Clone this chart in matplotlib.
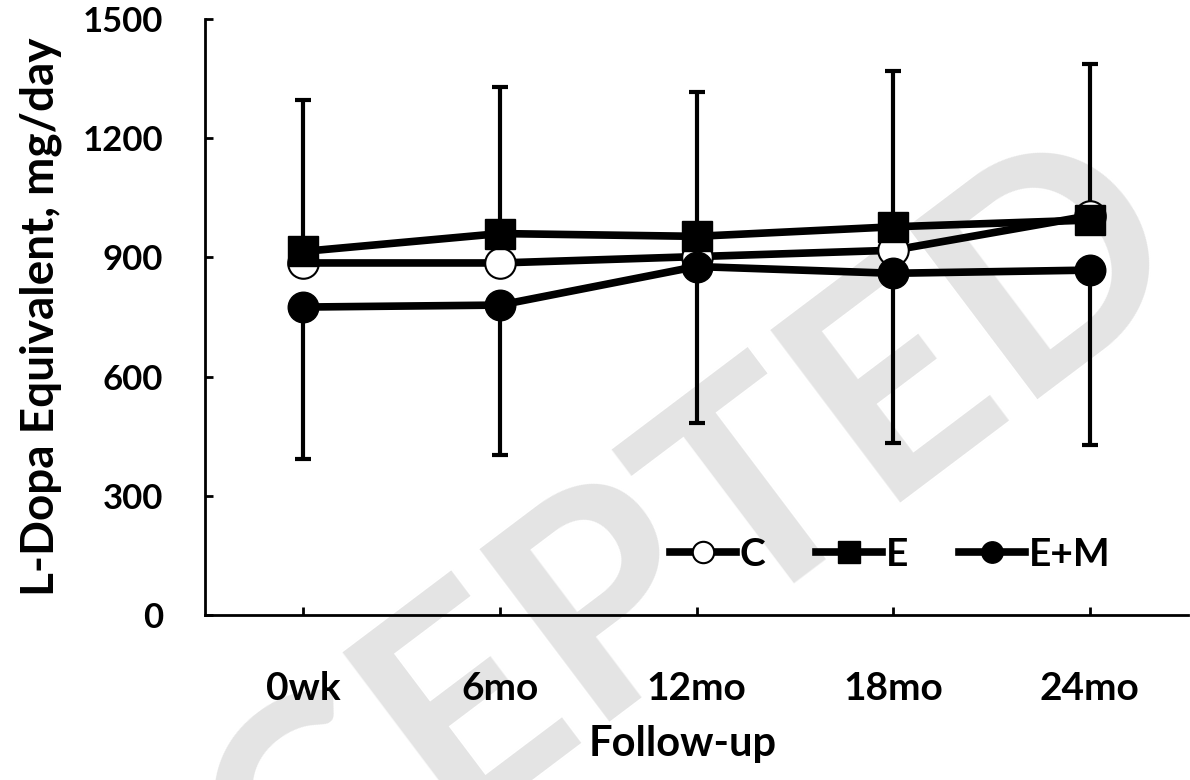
import numpy as np
import matplotlib
matplotlib.use("Agg")
from matplotlib import pyplot as plt
from matplotlib.ticker import MultipleLocator

# =============================================================================
# Data
# =============================================================================
timepoints = ["0wk", "6mo", "12mo", "18mo", "24mo"]
c_mean = [886, 886, 902, 918, 1005]
e_mean = [915, 960, 953, 977, 994]
em_mean = [775, 780, 877, 860, 868]
# upper error shown on E, lower error shown on E+M
e_err_up = [380, 370, 363, 391, 392]
em_err_down = [382, 378, 395, 428, 441]

# =============================================================================
# Style
# =============================================================================
plt.rcParams['font.family'] = ['Lato', 'DejaVu Sans']
plt.rcParams['font.weight'] = 'bold'

fig = plt.figure(figsize=(11.9, 7.8), dpi=100)
ax = fig.add_axes([205 / 1190, 1 - 615 / 780, 983 / 1190, 596 / 780])
ax.set_facecolor('none')

x = np.arange(len(timepoints))

# watermark behind everything
fig.text(0.45, 0.14, "ACCEPTED", fontsize=215, color="#e4e4e4", fontweight='bold',
         rotation=37, ha='center', va='center', zorder=-1)

lw = 5.5
ax.errorbar(x, e_mean, yerr=[np.zeros(len(x)), e_err_up], fmt='none', ecolor='black',
            elinewidth=3, capsize=6, capthick=3, zorder=1)
ax.errorbar(x, em_mean, yerr=[em_err_down, np.zeros(len(x))], fmt='none', ecolor='black',
            elinewidth=3, capsize=6, capthick=3, zorder=1)

ax.plot(x, c_mean, color='black', lw=lw, marker='o', ms=22, mfc='white', mec='black',
        mew=1.5, label='C', zorder=2)
ax.plot(x, e_mean, color='black', lw=lw, marker='s', ms=22, mfc='black', mec='black',
        label='E', zorder=3)
ax.plot(x, em_mean, color='black', lw=lw, marker='o', ms=22, mfc='black', mec='black',
        label='E+M', zorder=4)

ax.set_xlim(-0.5, 4.5)
ax.set_ylim(0, 1500)
ax.yaxis.set_major_locator(MultipleLocator(300))
ax.set_xticks(x)
ax.set_xticklabels(timepoints)

for s in ['top', 'right']:
    ax.spines[s].set_visible(False)
for s in ['left', 'bottom']:
    ax.spines[s].set_linewidth(2)

ax.tick_params(axis='y', direction='in', length=6, width=2, labelsize=25, pad=30)
ax.tick_params(axis='x', direction='in', length=6, width=2, labelsize=28, pad=40)

ax.set_xlabel("Follow-up", fontsize=30, fontweight='bold')
ax.set_ylabel("L-Dopa Equivalent, mg/day", fontsize=33, fontweight='bold')
ax.xaxis.set_label_coords(0.486, -0.185)
ax.yaxis.set_label_coords(-0.145, 0.5)

ax.legend(loc='center', bbox_to_anchor=(0.697, 0.102), ncol=3, frameon=False,
          fontsize=28, markerscale=0.7, handlelength=1.7, handletextpad=0.1,
          columnspacing=1.3)

fig.savefig("out.png", dpi=100)
